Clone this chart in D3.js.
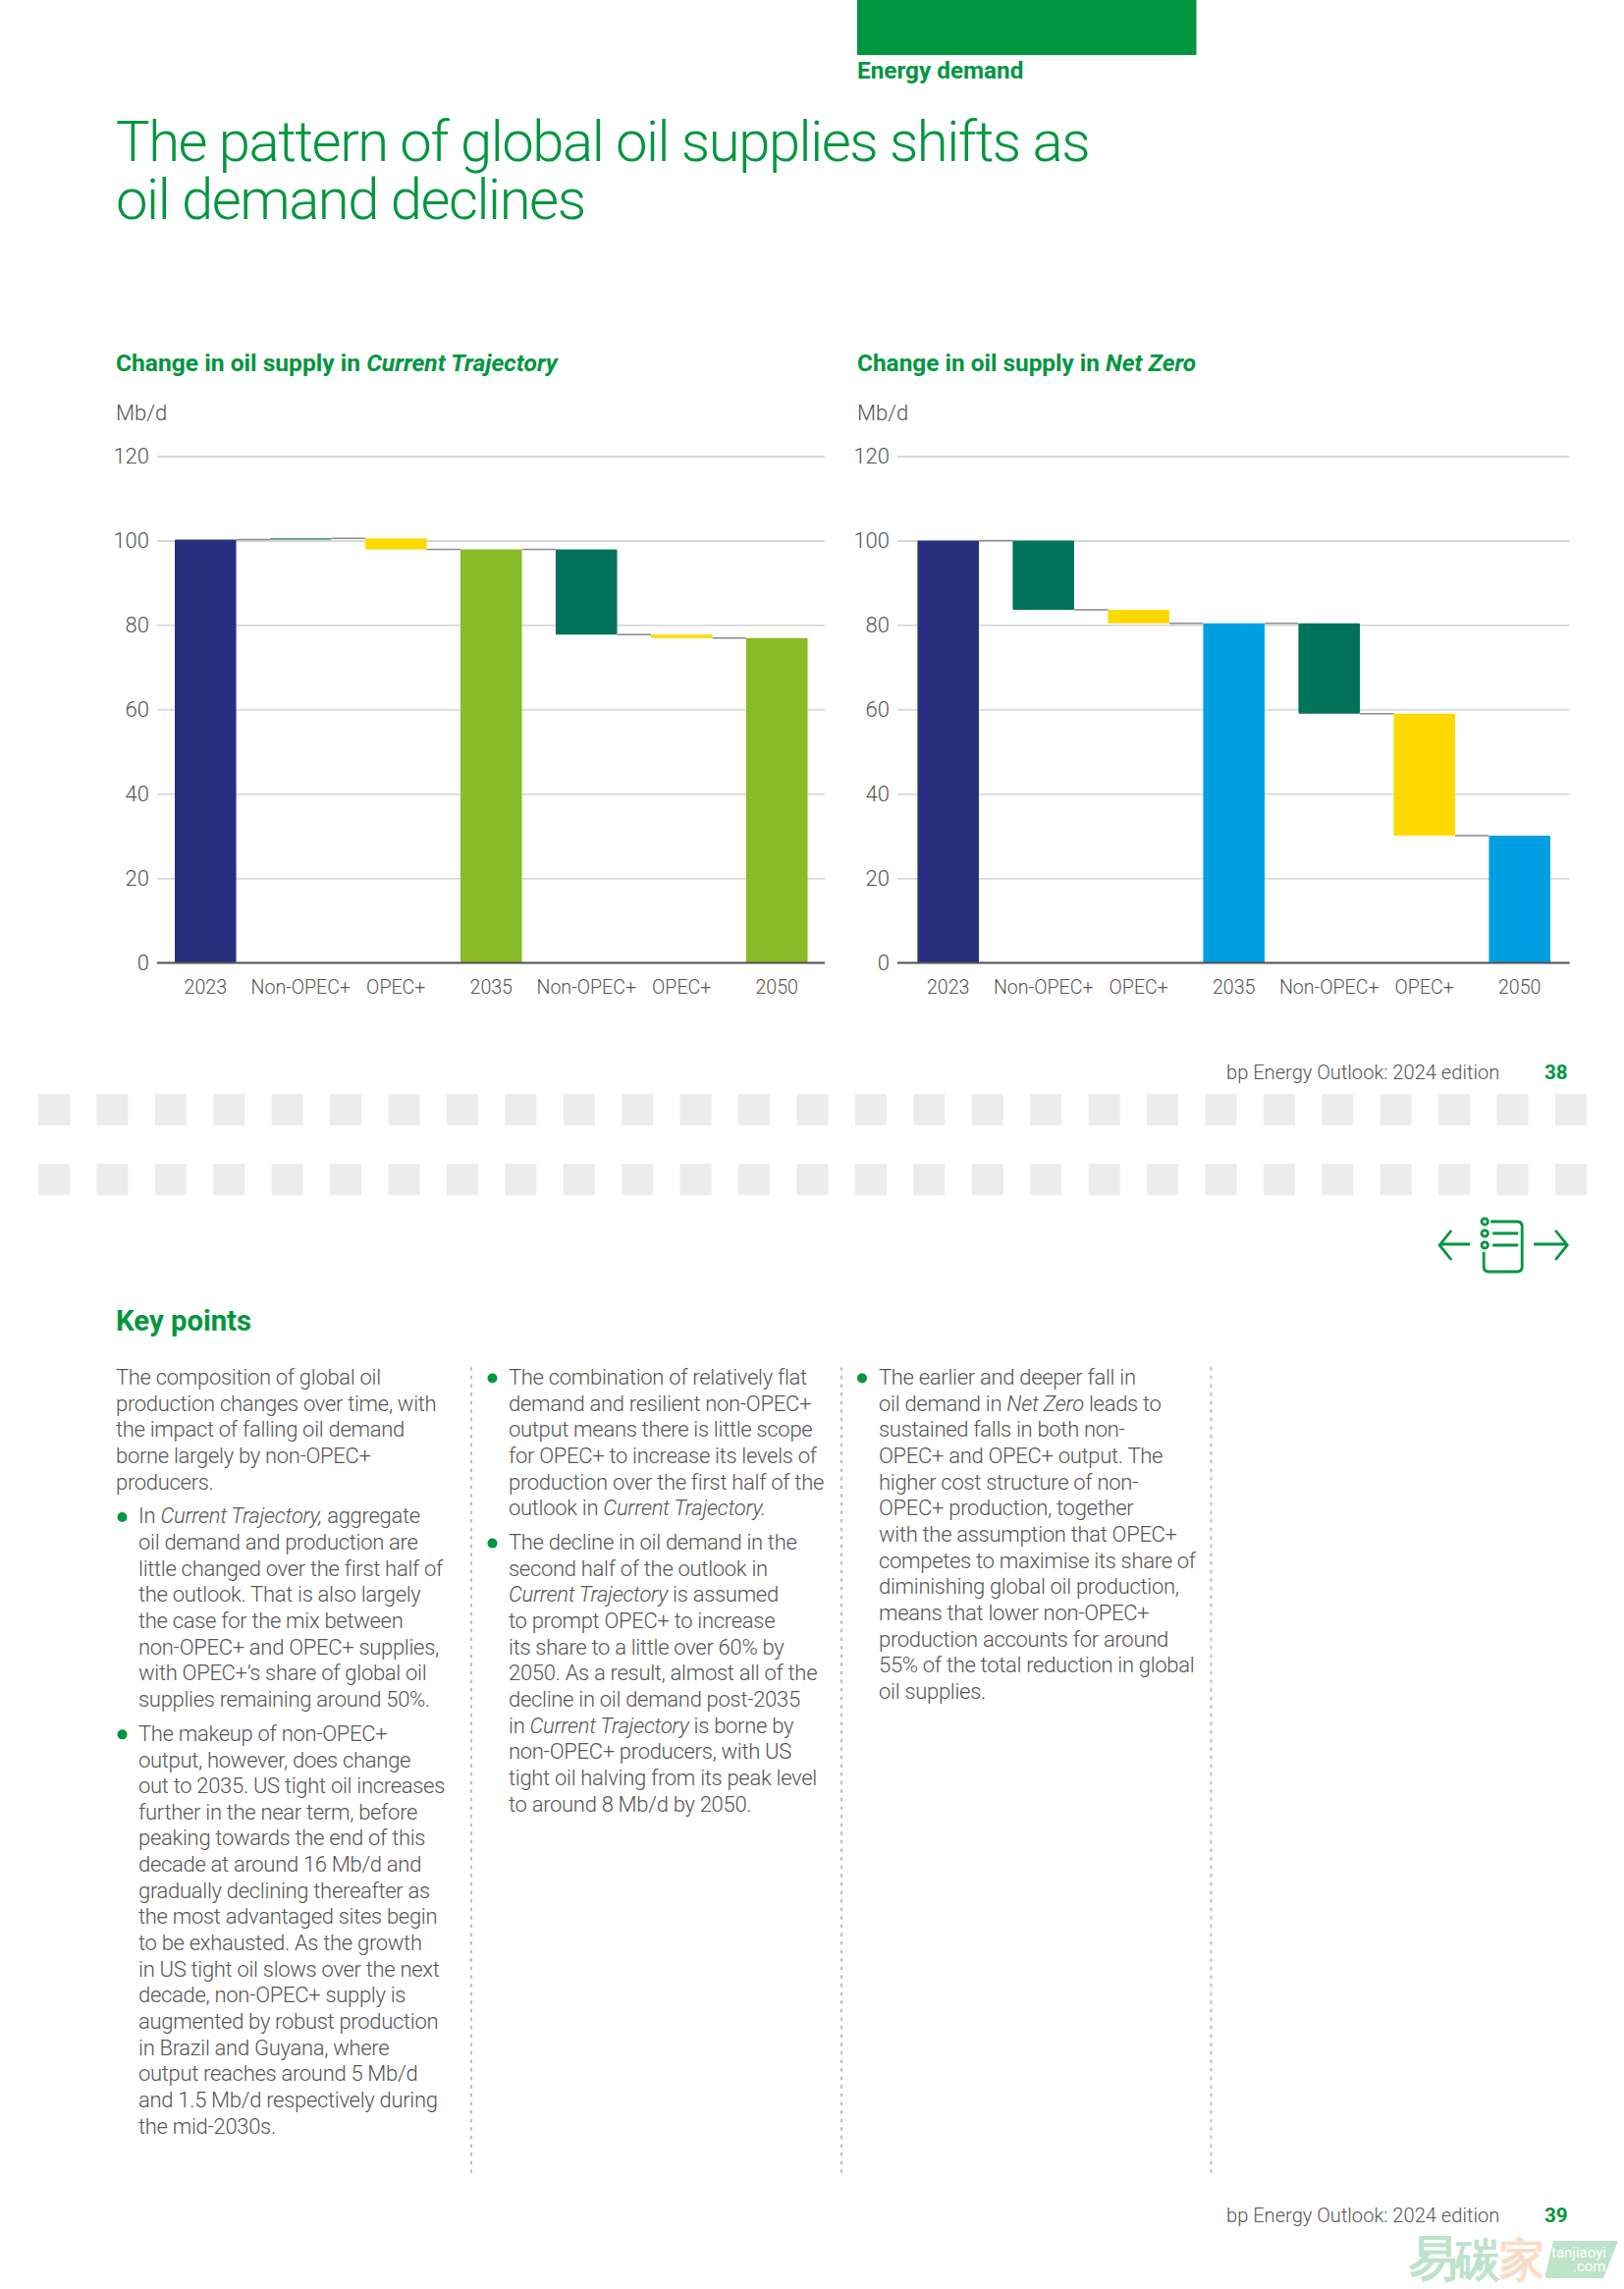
<!DOCTYPE html>
<html><head><meta charset="utf-8">
<style>
html,body{margin:0;padding:0;background:#fff}
svg{display:block}
text{font-family:Roboto,sans-serif}
.grid line{stroke:#cbcbcb;stroke-width:1.3}
.grid text{font-size:22px;font-weight:300;fill:#555}
.cat text{font-size:19.6px;font-weight:300;fill:#555}
</style>
<script src="https://cdnjs.cloudflare.com/ajax/libs/d3/7.8.5/d3.min.js"></script>
</head><body><svg id="c" width="1654" height="2331"></svg>
<script>
const categories = ["2023","Non-OPEC+","OPEC+","2035","Non-OPEC+","OPEC+","2050"];
const yTicks = [0,20,40,60,80,100,120];
// Totals are absolute, the steps between them are changes (Mb/d)
const currentTrajectory = [100.2, 0.3, -2.6, 97.9, -20.2, -0.8, 76.9];
const netZero = [100.0, -16.4, -3.2, 80.4, -21.4, -28.9, 30.1];
const kinds = ["total","step","step","total","step","step","total"];
const ctColors = ["#27307f","#00725a","#ffd900","#89ba27","#00725a","#ffd900","#89ba27"];
const nzColors = ["#27307f","#00725a","#ffd900","#009fe3","#00725a","#ffd900","#009fe3"];

const titleLines = ["The pattern of global oil supplies shifts as","oil demand declines"];
const column1 = [
 {b:false,lines:["The composition of global oil","production changes over time, with","the impact of falling oil demand","borne largely by non-OPEC+","producers."]},
 {b:true,lines:["In *Current Trajectory,* aggregate","oil demand and production are","little changed over the first half of","the outlook. That is also largely","the case for the mix between","non-OPEC+ and OPEC+ supplies,","with OPEC+’s share of global oil","supplies remaining around 50%."]},
 {b:true,lines:["The makeup of non-OPEC+","output, however, does change","out to 2035. US tight oil increases","further in the near term, before","peaking towards the end of this","decade at around 16 Mb/d and","gradually declining thereafter as","the most advantaged sites begin","to be exhausted. As the growth","in US tight oil slows over the next","decade, non-OPEC+ supply is","augmented by robust production","in Brazil and Guyana, where","output reaches around 5 Mb/d","and 1.5 Mb/d respectively during","the mid-2030s."]}
];
const column2 = [
 {b:true,lines:["The combination of relatively flat","demand and resilient non-OPEC+","output means there is little scope","for OPEC+ to increase its levels of","production over the first half of the","outlook in *Current Trajectory.*"]},
 {b:true,lines:["The decline in oil demand in the","second half of the outlook in","*Current Trajectory* is assumed","to prompt OPEC+ to increase","its share to a little over 60% by","2050. As a result, almost all of the","decline in oil demand post-2035","in *Current Trajectory* is borne by","non-OPEC+ producers, with US","tight oil halving from its peak level","to around 8 Mb/d by 2050."]}
];
const column3 = [
 {b:true,lines:["The earlier and deeper fall in","oil demand in *Net Zero* leads to","sustained falls in both non-","OPEC+ and OPEC+ output. The","higher cost structure of non-","OPEC+ production, together","with the assumption that OPEC+","competes to maximise its share of","diminishing global oil production,","means that lower non-OPEC+","production accounts for around","55% of the total reduction in global","oil supplies."]}
];

const GREEN="#00963f", GREY="#555";
const svg=d3.select("#c");
function txt(x,y,s,size,weight,fill,extra={}){
  const t=svg.append("text").attr("x",x).attr("y",y).attr("font-size",size).attr("font-weight",weight).attr("fill",fill);
  Object.entries(extra).forEach(([k,v])=>t.attr(k,v));
  s.split("*").forEach((part,i)=>{ if(part) t.append("tspan").attr("font-style",i%2?"italic":"normal").text(part); });
  return t;
}

// page furniture
svg.append("rect").attr("x",873).attr("y",0).attr("width",345.5).attr("height",56).attr("fill",GREEN);
txt(873,79.5,"Energy demand",24.3,700,GREEN);
titleLines.forEach((l,i)=>txt(118,164+i*58.5,l,58,300,GREEN,{"letter-spacing":"-1.45"}));
txt(118,378,"Change in oil supply in *Current Trajectory*",24.6,700,GREEN);
txt(873,378,"Change in oil supply in *Net Zero*",24.4,700,GREEN);
txt(118,428,"Mb/d",22,300,GREY);
txt(873,428,"Mb/d",22,300,GREY);

function chart(vals,colors,x0,x1,barL,barR){
  const y=d3.scaleLinear().domain([0,120]).range([980.4,464.5]);
  const x=d3.scaleBand().domain(d3.range(categories.length)).range([barL,barR]).paddingInner(0.355).paddingOuter(0);
  const g=svg.append("g");
  const ax=g.append("g").attr("class","grid").attr("transform",`translate(${x0},0)`)
    .call(d3.axisLeft(y).tickValues(yTicks).tickSize(-(x1-x0)).tickPadding(8));
  ax.select(".domain").remove();
  ax.selectAll("text").attr("dy","0.31em");
  // running level for the waterfall
  let level=0;
  const bars=vals.map((v,i)=>{
    if(kinds[i]==="total"){level=v;return {i,top:v,bot:0,end:v};}
    const a=level,b=level+v;level=b;return {i,top:Math.max(a,b),bot:Math.min(a,b),end:b};
  });
  // connectors
  g.selectAll(".conn").data(bars.slice(0,-1)).join("line").attr("class","conn")
    .attr("x1",d=>x(d.i)+x.bandwidth()).attr("x2",d=>x(d.i+1))
    .attr("y1",d=>y(d.end)).attr("y2",d=>y(d.end)).attr("stroke","#8a8a8a").attr("stroke-width",1.5);
  g.selectAll(".bar").data(bars).join("rect").attr("class","bar")
    .attr("x",d=>x(d.i)).attr("width",x.bandwidth())
    .attr("y",d=>y(d.top)).attr("height",d=>Math.max(y(d.bot)-y(d.top),1.2))
    .attr("rx",1).attr("fill",d=>colors[d.i]);
  g.append("line").attr("x1",x0).attr("x2",x1).attr("y1",y(0)).attr("y2",y(0)).attr("stroke","#555").attr("stroke-width",2);
  const cat=g.append("g").attr("class","cat").attr("transform",`translate(0,${y(0)})`)
    .call(d3.axisBottom(x).tickFormat(i=>categories[i]).tickSize(0).tickPadding(18));
  cat.select(".domain").remove();
}
chart(currentTrajectory,ctColors,160,840,178,822.5);
chart(netZero,nzColors,914,1598.5,934.4,1579);

// footers
const footer="bp Energy Outlook: 2024 edition";
txt(1249,1099,footer,20.1,300,GREY);
txt(1573,1099,"38",20.6,700,GREEN);
txt(1249,2263,footer,20.1,300,GREY);
txt(1573,2263,"39",20.6,700,GREEN);

// page-break squares
[1114,1185].forEach(top=>{
  svg.append("g").selectAll("rect").data(d3.range(27)).join("rect")
    .attr("x",i=>39+i*59.42).attr("y",top).attr("width",32).attr("height",32).attr("fill","#ececec");
});

// nav icons
const nav=svg.append("g").attr("fill","none").attr("stroke",GREEN).attr("stroke-width",2.8).attr("transform","translate(1.2,0)");
nav.append("path").attr("d","M1496,1267H1466M1477,1253L1465,1268L1477,1283");
nav.append("path").attr("d","M1561,1267H1594M1583,1253L1595,1268L1583,1283");
nav.append("path").attr("d","M1517,1244H1544Q1549,1244 1549,1249V1290Q1549,1295 1544,1295H1515Q1510,1295 1510,1290V1275");
[1244,1256,1268].forEach(cy=>nav.append("circle").attr("cx",1511).attr("cy",cy).attr("r",3.2));
nav.append("path").attr("d","M1519,1256H1545M1519,1268H1545");

// key points
txt(118,1355,"Key points",29.3,700,GREEN);
const LH=26.65, GAP=8.2, BODY=22, TRACK="-0.3";
function column(paras,xText,xBullet,xFlush){
  let y=1410;
  paras.forEach(p=>{
    if(p.b) svg.append("circle").attr("cx",xBullet).attr("cy",y-6.5).attr("r",5).attr("fill",GREEN);
    p.lines.forEach(l=>{ txt(p.b?xText:xFlush,y,l,BODY,300,GREY,{"letter-spacing":TRACK}); y+=LH; });
    y+=GAP;
  });
}
column(column1,141,124.5,118);
column(column2,518,501.5,518);
column(column3,895,878,895);
[480,857,1233.5].forEach(x=>svg.append("line").attr("x1",x).attr("x2",x).attr("y1",1393).attr("y2",2213)
  .attr("stroke","#bdbdbd").attr("stroke-width",2).attr("stroke-dasharray","2 6.6").attr("stroke-linecap","round"));

// watermark
const cjk='"Noto Sans CJK SC",sans-serif';
txt(1435,2317,"易",50,700,"#bde3c9",{"font-family":cjk});
txt(1482,2317,"碳",46,700,"#bde3c9",{"font-family":cjk});
txt(1527,2317,"家",46,700,"#f9dcc8",{"font-family":cjk});
svg.append("path").attr("d","M1582,2282H1648L1633,2320H1577Q1573,2320 1574,2316Z").attr("fill","#bde3c9");
txt(1580,2299,"tanjiaoyi",15,400,"#fff",{"font-style":"italic"});
txt(1602,2313,".com",15,400,"#fff",{"font-style":"italic"});
</script></body></html>
